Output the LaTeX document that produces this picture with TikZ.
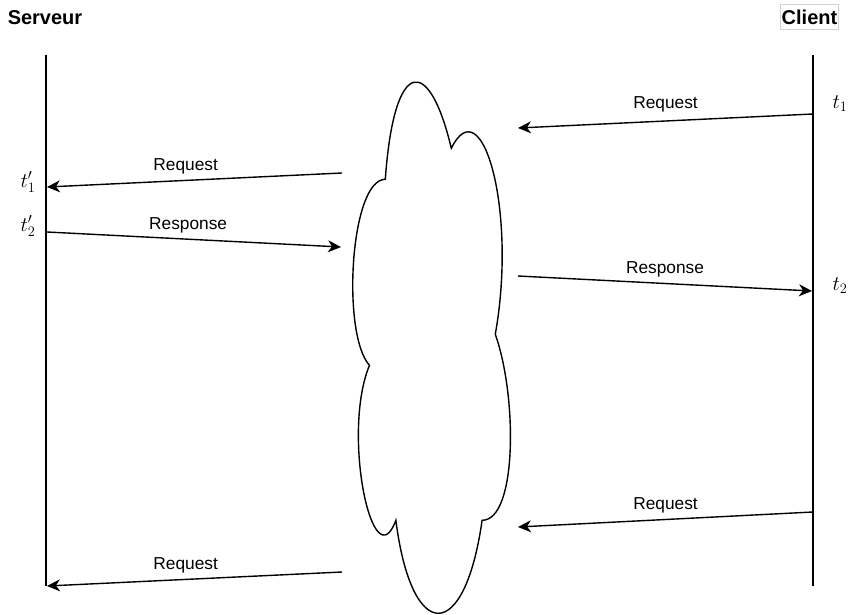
\documentclass[tikz,border=0pt]{standalone}
\usepackage{fontspec}
\setmainfont{Liberation Sans}
\usepackage{amsmath}
\usepackage{tikz}
\usetikzlibrary{arrows.meta, positioning}

\begin{document}
\begin{tikzpicture}[x=1pt, y=-1pt, line width=1.4pt,
  every node/.style={font=\fontsize{17.3}{20}\selectfont},
  head/.style={font=\fontsize{20}{24}\selectfont\bfseries, inner sep=0pt},
  tlabel/.style={font=\fontsize{20.74}{24}\selectfont},
  msg/.style={-{Stealth[length=13pt, width=12pt, inset=4pt]}}]
\useasboundingbox (0,0) rectangle (852,615);

% Headers
\node[head] (serveur) at (45,18) {Serveur};
\node[head, draw=gray!35, line width=0.6pt, inner xsep=1pt, inner ysep=5pt] (client) at (809.5,17) {Client};

% Lifelines
\coordinate (srvtop) at (46,55);
\coordinate (srvbot) at (46,586);
\coordinate (clitop) at (813,55);
\coordinate (clibot) at (813,586);
\draw (srvtop) -- (srvbot);
\draw (clitop) -- (clibot);

% Network cloud
\node[minimum width=176pt, minimum height=620pt, inner sep=0pt] (net) at (430,335) {};
\begin{scope}[shift={(net.north west)}, x=176pt, y=-620pt]
\draw (0.25,0.25) .. controls (0.05,0.25) and (0,0.5) .. (0.16,0.55)
  .. controls (0,0.66) and (0.18,0.9) .. (0.31,0.8)
  .. controls (0.4,1) and (0.7,1) .. (0.8,0.8)
  .. controls (1,0.8) and (1,0.6) .. (0.875,0.5)
  .. controls (1,0.3) and (0.8,0.1) .. (0.625,0.2)
  .. controls (0.5,0.05) and (0.3,0.05) .. (0.25,0.25) -- cycle;
\end{scope}

% Message end points
\coordinate (c1) at (813,114);
\coordinate (n1) at (518,128);
\coordinate (n2) at (342,173);
\coordinate (s1) at (47,187);
\coordinate (s2) at (47,232);
\coordinate (n3) at (341,247);
\coordinate (n4) at (518,276);
\coordinate (c2) at (812,291);
\coordinate (c3) at (813,512);
\coordinate (n5) at (518,527);
\coordinate (n6) at (342,572);
\coordinate (s3) at (47,586);

% First exchange
\draw[msg] (c1) -- node[pos=0.5, above=5pt] (req1) {Request} (n1);
\draw[msg] (n2) -- node[pos=0.53, above=2pt] (req2) {Request} (s1);
\draw[msg] (s2) -- node[pos=0.48, above=2pt] (resp1) {Response} (n3);
\draw[msg] (n4) -- node[pos=0.5, above=2pt] (resp2) {Response} (c2);

% Second request
\draw[msg] (c3) -- node[pos=0.5, above=2pt] (req3) {Request} (n5);
\draw[msg] (n6) -- node[pos=0.53, above=2pt] (req4) {Request} (s3);

% Times
\node[tlabel] (t1) at (840,104) {$t_1$};
\node[tlabel] (t2) at (840,286) {$t_2$};
\node[tlabel] (t1p) at (28,182) {$t'_1$};
\node[tlabel] (t2p) at (28,226) {$t'_2$};
\end{tikzpicture}
\end{document}
